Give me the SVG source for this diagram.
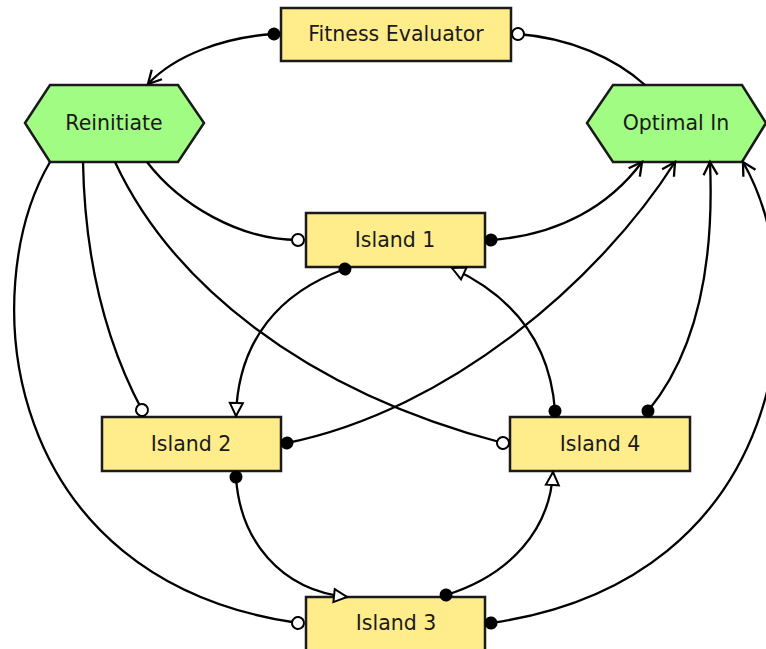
<svg xmlns="http://www.w3.org/2000/svg" width="766" height="649" viewBox="0 0 766 649">
<style>
.box{fill:#ffec8b;stroke:#1a1a1a;stroke-width:2.5}
.hex{fill:#a1fc84;stroke:#1a1a1a;stroke-width:2.5}
.lbl{font-family:"DejaVu Sans",sans-serif;font-size:20.5px;fill:#1a1a1a;text-anchor:middle}
.c{fill:none;stroke:#000;stroke-width:2.3}
</style>
<defs>
<marker id="dot" markerUnits="userSpaceOnUse" markerWidth="18" markerHeight="18" refX="9" refY="9" orient="auto"><circle cx="9" cy="9" r="6.5" fill="#000"/></marker>
<marker id="odot" markerUnits="userSpaceOnUse" markerWidth="18" markerHeight="18" refX="9" refY="9" orient="auto"><circle cx="9" cy="9" r="6" fill="#fff" stroke="#000" stroke-width="2"/></marker>
<marker id="varr" markerUnits="userSpaceOnUse" markerWidth="20" markerHeight="20" refX="16" refY="10" orient="auto"><path d="M3,3 L16,10 L3,17" fill="none" stroke="#000" stroke-width="2.3"/></marker>
<marker id="tri" markerUnits="userSpaceOnUse" markerWidth="20" markerHeight="20" refX="17" refY="10" orient="auto"><path d="M4,3.5 L17,10 L4,16.5 Z" fill="#fff" stroke="#000" stroke-width="2"/></marker>
</defs>
<g id="fitness-evaluator"><rect class="box" x="281" y="8" width="230" height="53"/><text class="lbl" x="396" y="41">Fitness Evaluator</text></g>
<g id="reinitiate"><polygon class="hex" points="25,123 50,85 178,85 204,123 178,162 50,162"/><text class="lbl" x="114" y="130">Reinitiate</text></g>
<g id="optimal-in"><polygon class="hex" points="587,123 613,85 742,85 766,123 742,162 613,162"/><text class="lbl" x="676" y="130">Optimal In</text></g>
<g id="island-1"><rect class="box" x="306" y="213" width="179" height="54"/><text class="lbl" x="395" y="247">Island 1</text></g>
<g id="island-2"><rect class="box" x="102" y="417" width="179" height="54"/><text class="lbl" x="191" y="451">Island 2</text></g>
<g id="island-4"><rect class="box" x="510" y="417" width="180" height="54"/><text class="lbl" x="600" y="451">Island 4</text></g>
<g id="island-3"><rect class="box" x="306" y="597" width="179" height="54"/><text class="lbl" x="396" y="630">Island 3</text></g>
<g id="connectors">
<path class="c" d="M274,34 C225,37 175,55 148,84" marker-start="url(#dot)" marker-end="url(#varr)"/>
<path class="c" d="M518,34 C570,38 615,58 645,85" marker-start="url(#odot)"/>
<path class="c" d="M147,162 C180,205 240,240 298,240" marker-end="url(#odot)"/>
<path class="c" d="M491,240 C560,235 610,205 642,162" marker-start="url(#dot)" marker-end="url(#varr)"/>
<path class="c" d="M345,269 C280,292 238,340 236,416" marker-start="url(#dot)" marker-end="url(#tri)"/>
<path class="c" d="M555,411 C550,340 510,295 452,268" marker-start="url(#dot)" marker-end="url(#tri)"/>
<path class="c" d="M648,411 C690,360 715,280 710,162" marker-start="url(#dot)" marker-end="url(#varr)"/>
<path class="c" d="M287,443 C450,410 600,280 675,162" marker-start="url(#dot)" marker-end="url(#varr)"/>
<path class="c" d="M83,162 C85,270 110,350 142,410" marker-end="url(#odot)"/>
<path class="c" d="M115,162 C170,280 300,390 503,443" marker-end="url(#odot)"/>
<path class="c" d="M50,162 C-25,290 0,580 298,623" marker-end="url(#odot)"/>
<path class="c" d="M491,623 C791,580 816,290 743,162" marker-start="url(#dot)" marker-end="url(#varr)"/>
<path class="c" d="M236,477 C240,540 280,590 347,597" marker-start="url(#dot)" marker-end="url(#tri)"/>
<path class="c" d="M446,595 C510,575 550,530 553,472" marker-start="url(#dot)" marker-end="url(#tri)"/>
</g>
</svg>
